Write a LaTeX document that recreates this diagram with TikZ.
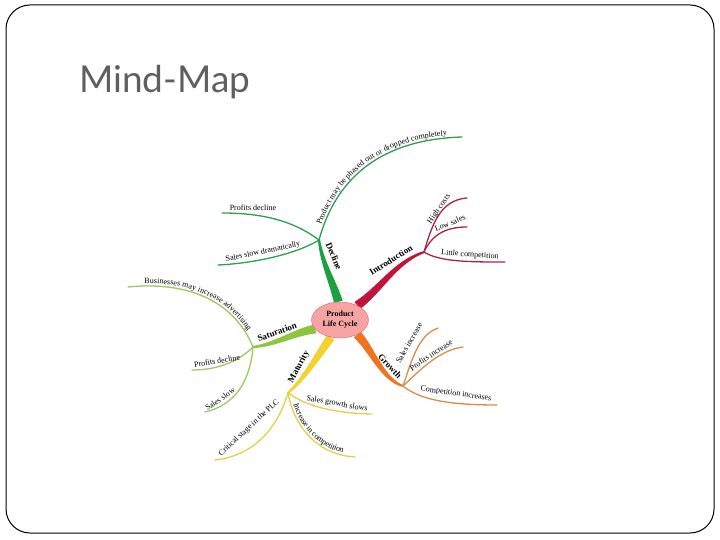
\documentclass[tikz,border=0pt]{standalone}
\usepackage{fontspec}
\setmainfont{Liberation Serif}
\newfontfamily\titlefont{Lato}
\usetikzlibrary{shapes.geometric,decorations.text,backgrounds,calc}
\definecolor{titlegray}{HTML}{5F5F5F}
\definecolor{declinec}{HTML}{1FA040}
\definecolor{declinesub}{HTML}{2E9E50}
\definecolor{introc}{HTML}{C0143C}
\definecolor{introsub}{HTML}{A82444}
\definecolor{growthc}{HTML}{EE7420}
\definecolor{growthsub}{HTML}{D88C4A}
\definecolor{satc}{HTML}{8CC63F}
\definecolor{satsub}{HTML}{9CC860}
\definecolor{matc}{HTML}{F2D22E}
\definecolor{matsub}{HTML}{E4CE4C}
\definecolor{plcfill}{HTML}{F5A3A3}
\definecolor{plcborder}{HTML}{D86868}
% tapered trunk: colour, start, control 1, control 2, end
\newcommand\taper[5]{%
  \fill[#1] let \p1=#2, \p2=#5, \n1={atan2(\y2-\y1,\x2-\x1)+90}, \n2={atan2(\y2-\y1,\x2-\x1)-90} in
    ($#2+(\n1:4.5pt)$) .. controls ($#3+(\n1:3.4pt)$) and ($#4+(\n1:2.2pt)$) .. ($#5+(\n1:1.1pt)$)
    -- ($#5+(\n2:1.1pt)$) .. controls ($#4+(\n2:2.2pt)$) and ($#3+(\n2:3.4pt)$) .. ($#2+(\n2:4.5pt)$) -- cycle;}
\begin{document}
\begin{tikzpicture}[x=1pt,y=-1pt,
  sub/.style={line width=1.3pt, line cap=round},
  lbl/.style={font=\fontsize{8}{9}\selectfont, inner sep=0pt},
  blbl/.style={font=\bfseries\fontsize{9}{10}\selectfont, inner sep=0pt},
  alongtext/.style={decorate, decoration={text along path, text align=center, raise=2.5pt, text={#1}}}]
\useasboundingbox (0,0) rectangle (720,540);
\draw[line width=1pt, rounded corners=24pt] (6,5) rectangle (714,533);
\node[font=\titlefont\fontsize{37}{40}\selectfont, text=titlegray, anchor=west, inner sep=0pt] (title) at (79,82) {Mind-Map};

% centre
\node[ellipse, draw=plcborder, fill=plcfill, minimum width=57pt, minimum height=36pt, inner sep=0pt, align=center, font=\bfseries\fontsize{8}{10}\selectfont] (plc) at (340,320) {Product\\Life Cycle};

% junctions
\coordinate (D) at (319,240);
\coordinate (I) at (424,252);
\coordinate (G) at (403,386);
\coordinate (S) at (253,347);
\coordinate (M) at (288,393);
% end points
\coordinate (d1) at (462,137);
\coordinate (d2) at (222,213);
\coordinate (d3) at (218,265);
\coordinate (i1) at (467,198);
\coordinate (i2) at (467,227);
\coordinate (i3) at (505,262);
\coordinate (g1) at (438,328);
\coordinate (g2) at (463,347);
\coordinate (g3) at (497,405);
\coordinate (s1) at (128,287);
\coordinate (s2) at (192,370);
\coordinate (s3) at (205,412);
\coordinate (m1) at (372,414);
\coordinate (m2) at (355,457);
\coordinate (m3) at (215,460);

\begin{pgfonlayer}{background}
\taper{declinec}{(plc.95)}{(332,280)}{(322,262)}{(D)}
\taper{introc}{(plc.40)}{(380,290)}{(395,262)}{(I)}
\taper{growthc}{(plc.-40)}{(372,350)}{(383,380)}{(G)}
\taper{satc}{(plc.200)}{(295,332)}{(275,345)}{(S)}
\taper{matc}{(plc.-118)}{(318,355)}{(305,378)}{(M)}
\end{pgfonlayer}

% branch labels
\node[blbl, rotate=-67] (ldec) at (334,256) {Decline};
\node[blbl, rotate=32] (lint) at (391,260) {Introduction};
\node[blbl, rotate=-47] (lgro) at (390,366) {Growth};
\node[blbl, rotate=20] (lsat) at (277,332) {Saturation};
\node[blbl, rotate=62] (lmat) at (299,367) {Maturity};

% decline
\draw[sub, declinesub] (D) .. controls (330,200) and (360,140) .. (d1);
\path[alongtext={|\fontsize{8}{9}\selectfont|Product may be phased out or dropped completely}] (D) .. controls (330,200) and (360,140) .. (d1);
\draw[sub, declinesub] (D) .. controls (295,222) and (265,213) .. (d2);
\node[lbl] (td2) at (253,208) {Profits decline};
\draw[sub, declinesub] (D) .. controls (300,252) and (260,263) .. (d3);
\node[lbl, rotate=12] (td3) at (263,252) {Sales slow dramatically};

% introduction
\draw[sub, introsub] (I) .. controls (432,225) and (440,200) .. (i1);
\node[lbl, rotate=55] (ti1) at (439,209) {High costs};
\draw[sub, introsub] (I) .. controls (432,235) and (445,227) .. (i2);
\node[lbl, rotate=22] (ti2) at (450,223) {Low sales};
\draw[sub, introsub] (I) .. controls (440,262) and (470,262) .. (i3);
\node[lbl, rotate=-4] (ti3) at (470,255) {Little competition};

% growth
\draw[sub, growthsub] (G) .. controls (412,360) and (418,335) .. (g1);
\node[lbl, rotate=60] (tg1) at (409,343) {Sales increase};
\draw[sub, growthsub] (G) .. controls (422,368) and (440,350) .. (g2);
\node[lbl, rotate=34] (tg2) at (431,355) {Profits increase};
\draw[sub, growthsub] (G) .. controls (420,400) and (450,405) .. (g3);
\node[lbl, rotate=-8] (tg3) at (456,394) {Competition increases};

% saturation
\draw[sub, satsub] (s1) .. controls (200,280) and (238,310) .. (S);
\path[alongtext={|\fontsize{8}{9}\selectfont|Businesses may increase advertising}] (s1) .. controls (200,280) and (238,310) .. (S);
\draw[sub, satsub] (S) .. controls (240,360) and (220,370) .. (s2);
\node[lbl, rotate=10] (ts2) at (217,361) {Profits decline};
\draw[sub, satsub] (S) .. controls (250,382) and (235,405) .. (s3);
\node[lbl, rotate=35] (ts3) at (220,399) {Sales slow};

% maturity
\draw[sub, matsub] (M) .. controls (305,405) and (330,413) .. (m1);
\node[lbl, rotate=-10] (tm1) at (337,404) {Sales growth slows};
\draw[sub, matsub] (M) .. controls (295,430) and (320,455) .. (m2);
\path[alongtext={|\fontsize{8}{9}\selectfont|Increase in competition}] (M) .. controls (295,430) and (320,455) .. (m2);
\draw[sub, matsub] (M) .. controls (280,420) and (260,455) .. (m3);
\node[lbl, rotate=43] (tm3) at (249,428) {Critical stage in the PLC};
\end{tikzpicture}
\end{document}
